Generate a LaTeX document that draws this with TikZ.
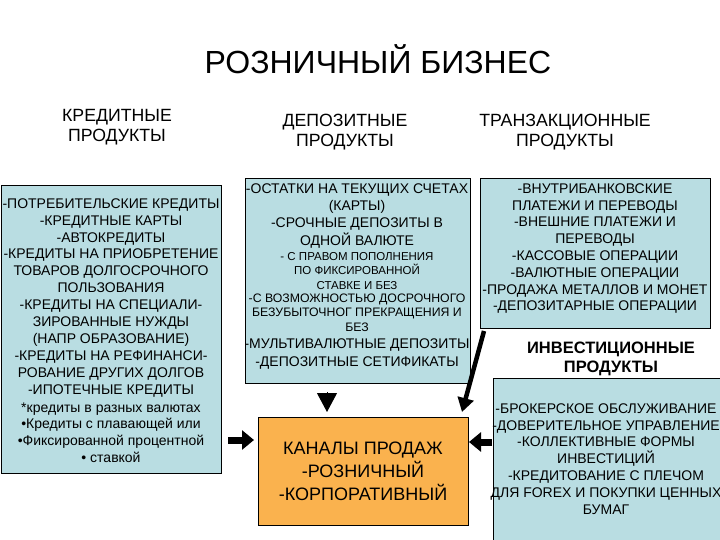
\documentclass[tikz,border=0pt]{standalone}
\usepackage{fontspec}
\setmainfont{Liberation Sans}
\usetikzlibrary{arrows.meta}
\definecolor{boxblue}{RGB}{185,221,226}
\definecolor{boxorange}{RGB}{250,178,78}
\newcommand{\tp}{\rule{0pt}{1em}}
\begin{document}
\begin{tikzpicture}[x=1pt,y=-1pt,
  box/.style={draw=black, line width=0.8pt, fill=boxblue, rectangle, anchor=north west, inner sep=0pt},
  obox/.style={box, fill=boxorange},
  txt/.style={align=center, anchor=north, inner sep=0pt},
  fs/.style 2 args={font=\fontsize{#1}{#2}\selectfont},
  bigarrow/.style={draw=black, line width=7pt, -{Triangle[width=19pt,length=12pt]}},
  headonly/.style={draw=black, line width=1pt, -{Triangle[width=20pt,length=19pt]}},
  slant/.style={draw=black, line width=4.5pt, -{Triangle[width=16pt,length=14pt]}}]
\useasboundingbox[fill=white] (0,0) rectangle (720,540);

% boxes
\node[box, minimum width=220pt, minimum height=288pt] (credit) at (1,185) {};
\node[box, minimum width=225pt, minimum height=205pt] (deposit) at (245,178) {};
\node[box, minimum width=230pt, minimum height=150pt] (trans) at (480,178) {};
\node[box, minimum width=235pt, minimum height=170pt] (invest) at (493,378) {};
\node[obox, minimum width=210pt, minimum height=108pt] (chan) at (258,417) {};

% headings
\node[txt, fs={32}{38}] (title) at (378,41.5) {\tp РОЗНИЧНЫЙ БИЗНЕС};
\node[txt, fs={17.7}{20.5}] (hcredit) at (117,103.6) {\tp КРЕДИТНЫЕ\\ПРОДУКТЫ};
\node[txt, fs={17.7}{20.5}] (hdeposit) at (345,108.6) {\tp ДЕПОЗИТНЫЕ\\ПРОДУКТЫ};
\node[txt, fs={17.7}{20.5}] (htrans) at (565,108.6) {\tp ТРАНЗАКЦИОННЫЕ\\ПРОДУКТЫ};
\node[txt, fs={16.5}{19.5}] (hinvest) at (611,336.5) {\tp\bfseries ИНВЕСТИЦИОННЫЕ\\\bfseries ПРОДУКТЫ};

% credit text
\node[txt, fs={14}{16.9}] (tcredit) at (111,194) {\tp -ПОТРЕБИТЕЛЬСКИЕ КРЕДИТЫ\\-КРЕДИТНЫЕ КАРТЫ\\-АВТОКРЕДИТЫ\\-КРЕДИТЫ НА ПРИОБРЕТЕНИЕ\\ТОВАРОВ ДОЛГОСРОЧНОГО\\ПОЛЬЗОВАНИЯ\\-КРЕДИТЫ НА СПЕЦИАЛИ-\\ЗИРОВАННЫЕ НУЖДЫ\\(НАПР ОБРАЗОВАНИЕ)\\-КРЕДИТЫ НА РЕФИНАНСИ-\\РОВАНИЕ ДРУГИХ ДОЛГОВ\\-ИПОТЕЧНЫЕ КРЕДИТЫ\\[1pt]*кредиты в разных валютах\\•Кредиты с плавающей или\\•Фиксированной процентной\\• ставкой};

% deposit text
\node[txt, fs={14}{17.3}] (tdep1) at (357,179) {\tp -ОСТАТКИ НА ТЕКУЩИХ СЧЕТАХ\\(КАРТЫ)\\-СРОЧНЫЕ ДЕПОЗИТЫ В\\ОДНОЙ ВАЛЮТЕ};
\node[txt, fs={11.5}{14.5}] (tdep2) at (357,248.6) {\tp - С ПРАВОМ ПОПОЛНЕНИЯ\\ПО ФИКСИРОВАННОЙ\\СТАВКЕ И БЕЗ};
\node[txt, fs={12.3}{14.3}] (tdep3) at (357,290) {\tp -С ВОЗМОЖНОСТЬЮ ДОСРОЧНОГО\\БЕЗУБЫТОЧНОГ ПРЕКРАЩЕНИЯ И\\БЕЗ};
\node[txt, fs={14}{18}] (tdep4) at (357,334) {\tp -МУЛЬТИВАЛЮТНЫЕ ДЕПОЗИТЫ\\-ДЕПОЗИТНЫЕ СЕТИФИКАТЫ};

% transaction text
\node[txt, fs={14}{16.8}] (ttrans) at (595,179) {\tp -ВНУТРИБАНКОВСКИЕ\\ПЛАТЕЖИ И ПЕРЕВОДЫ\\-ВНЕШНИЕ ПЛАТЕЖИ И\\ПЕРЕВОДЫ\\-КАССОВЫЕ ОПЕРАЦИИ\\-ВАЛЮТНЫЕ ОПЕРАЦИИ\\-ПРОДАЖА МЕТАЛЛОВ И МОНЕТ\\-ДЕПОЗИТАРНЫЕ ОПЕРАЦИИ};

% investment text
\node[txt, fs={14}{16.8}] (tinvest) at (606,399) {\tp -БРОКЕРСКОЕ ОБСЛУЖИВАНИЕ\\-ДОВЕРИТЕЛЬНОЕ УПРАВЛЕНИЕ\\-КОЛЛЕКТИВНЫЕ ФОРМЫ\\ИНВЕСТИЦИЙ\\-КРЕДИТОВАНИЕ С ПЛЕЧОМ\\ДЛЯ FOREX И ПОКУПКИ ЦЕННЫХ\\БУМАГ};

% channels text
\node[txt, fs={18}{23}] (tchan) at (363,436.4) {\tp КАНАЛЫ ПРОДАЖ\\-РОЗНИЧНЫЙ\\-КОРПОРАТИВНЫЙ};

% arrow end points
\coordinate (a1s) at (228,440);
\coordinate (a1e) at (254,440);
\coordinate (a2s) at (327,392);
\coordinate (a2e) at (327,412);
\coordinate (a3s) at (484,331);
\coordinate (a3e) at (462,412);
\coordinate (a4s) at (492,442);
\coordinate (a4e) at (469,442);

\draw[bigarrow] (a1s) -- (a1e);
\draw[headonly] (a2s) -- (a2e);
\draw[slant] (a3s) -- (a3e);
\draw[bigarrow] (a4s) -- (a4e);
\end{tikzpicture}
\end{document}
